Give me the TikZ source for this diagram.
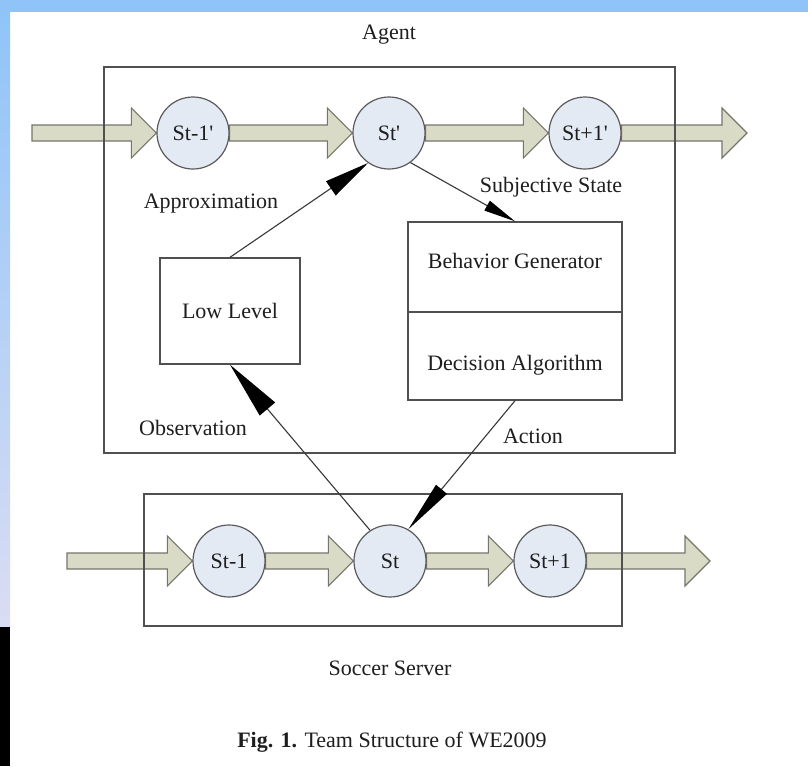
\documentclass[tikz,border=0pt]{standalone}
\usepackage{fontspec}
\setmainfont{Liberation Serif}
\usetikzlibrary{calc,arrows.meta,backgrounds}
\definecolor{topblue}{HTML}{90C4F8}
\definecolor{lowblue}{HTML}{DADDF3}
\definecolor{circfill}{HTML}{E4EAF4}
\definecolor{circline}{HTML}{5A5A5A}
\definecolor{bandfill}{HTML}{DADBC6}
\definecolor{bandline}{HTML}{75766C}
\definecolor{boxline}{HTML}{505050}
\definecolor{connline}{HTML}{383838}
\definecolor{txt}{HTML}{1E1E1E}
\tikzset{
  lbl/.style={text=txt, font=\fontsize{22}{26}\selectfont, inner sep=0pt},
  statec/.style={circle, draw=circline, fill=circfill, line width=1.2pt, minimum size=72pt, inner sep=0pt, text=txt, font=\fontsize{22}{26}\selectfont},
  boxn/.style={rectangle, draw=boxline, line width=1.4pt, inner sep=0pt, text=txt, font=\fontsize{22}{26}\selectfont},
  bigbox/.style={rectangle, draw=boxline, line width=1.6pt, inner sep=0pt},
  band/.style={fill=bandfill, draw=bandline, line width=1.1pt, line join=miter},
  conn/.style={draw=connline, line width=1.1pt},
}
\newcommand\bandarrow[2]{\draw[band] ($(#1)+(0,-8)$) -- ($(#2)+(-25,-8)$) -- ($(#2)+(-25,-25)$) -- (#2) -- ($(#2)+(-25,25)$) -- ($(#2)+(-25,8)$) -- ($(#1)+(0,8)$) -- cycle;}
\newcommand\qs{\textquotesingle}
\begin{document}
\begin{tikzpicture}[x=1pt,y=-1pt]
\useasboundingbox (0,0) rectangle (808,766);
% state circles
\node[statec] (p1) at (193,133) {St-1\qs};
\node[statec] (p2) at (389,133) {St\qs};
\node[statec] (p3) at (585,133) {St+1\qs};
\node[statec] (s1) at (229,561) {St-1};
\node[statec] (s2) at (390,561) {St};
\node[statec] (s3) at (550,561) {St+1};
\coordinate (tin) at (32,133);
\coordinate (tout) at (747,133);
\coordinate (bin) at (67,561);
\coordinate (bout) at (710,561);
\begin{scope}[on background layer]
  \fill[white] (0,0) rectangle (808,766);
  \fill[topblue] (0,0) rectangle (808,12);
  \shade[top color=topblue, bottom color=lowblue] (0,12) rectangle (10,627);
  \fill[black] (0,627) rectangle (10,766);
  \bandarrow{tin}{p1.west}
  \bandarrow{p1.east}{p2.west}
  \bandarrow{p2.east}{p3.west}
  \bandarrow{p3.east}{tout}
  \bandarrow{bin}{s1.west}
  \bandarrow{s1.east}{s2.west}
  \bandarrow{s2.east}{s3.west}
  \bandarrow{s3.east}{bout}
  \node[bigbox, minimum width=571pt, minimum height=386pt] (agentbox) at (389.5,260) {};
  \node[bigbox, minimum width=478pt, minimum height=132pt] (serverbox) at (383,560) {};
\end{scope}
% inner boxes
\node[boxn, minimum width=140pt, minimum height=106pt] (ll) at (230,311) {Low Level};
\node[boxn, minimum width=214pt, minimum height=90pt] (bg) at (515,267) {};
\node[boxn, minimum width=214pt, minimum height=88pt] (da) at (515,356) {};
\node[lbl] (bgt) at (515,261) {Behavior Generator};
\node[lbl] (dat) at (515,365) {Decision Algorithm};
% labels
\node[lbl] (agent) at (389,35) {Agent};
\node[lbl] (approx) at (211,204) {Approximation};
\node[lbl] (subj) at (551,187) {Subjective State};
\node[lbl] (obs) at (193,428) {Observation};
\node[lbl] (act) at (533,436) {Action};
\node[lbl] (server) at (390,668) {Soccer Server};
\node[lbl] (cap) at (392,742) {\textbf{Fig. 1.} Team Structure of WE2009};
% connectors
\draw[conn, -{Triangle[length=45pt,width=17pt,black]}] (ll.north) -- (p2.235);
\draw[conn, -{Triangle[length=32pt,width=11pt,black]}] (p2.306) -- (bg.north);
\draw[conn, -{Triangle[length=52pt,width=14pt,black]}] (da.south) -- (s2.60);
\draw[conn, -{Triangle[length=58pt,width=20pt,black]}] (s2.123) -- (ll.south);
\end{tikzpicture}
\end{document}
